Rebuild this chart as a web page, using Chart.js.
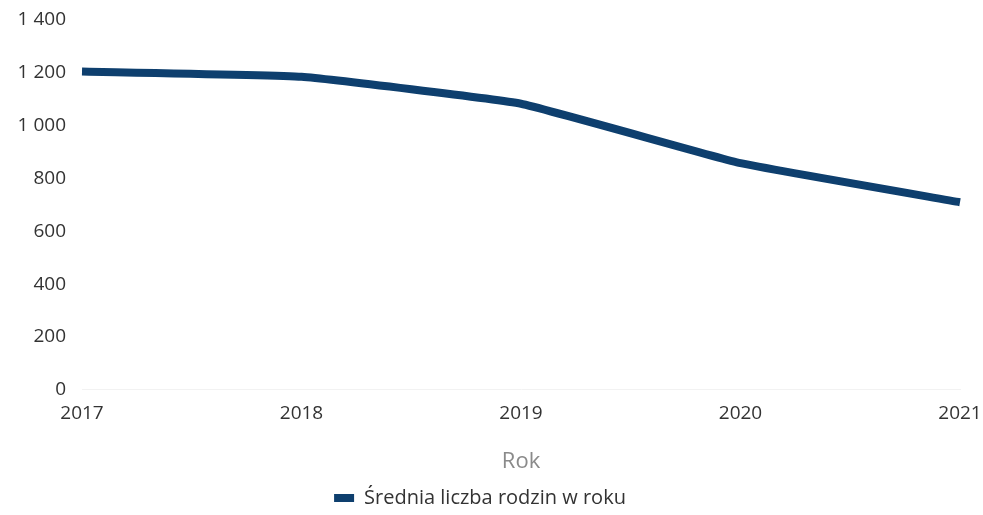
<!DOCTYPE html>
<html>
<head>
<meta charset="utf-8">
<script src="https://cdn.jsdelivr.net/npm/chart.js@4.4.0/dist/chart.umd.min.js"></script>
<style>
    html, body { margin: 0; padding: 0; background: #fff; }
    #wrap { width: 983px; height: 515px; position: relative; }
</style>
</head>
<body>
<div id="wrap"><canvas id="chart"></canvas></div>
<script>
// Dane wykresu
const lata = ['2017', '2018', '2019', '2020', '2021'];
const sredniaRodzin = [1205, 1185, 1083, 858, 710];
const osY = { min: 0, max: 1400, krok: 200 };
const tytulX = 'Rok';
const etykietaSerii = 'Średnia liczba rodzin w roku';

const kolor = '#0e3f6e';

// Format liczby ze spacją jako separatorem tysięcy
function formatLiczby(v) {
    return String(v).replace(/\B(?=(\d{3})+(?!\d))/g, ' ');
}

Chart.defaults.font.family = "'Open Sans', sans-serif";
Chart.defaults.color = '#333';

const ctx = document.getElementById('chart').getContext('2d');
new Chart(ctx, {
    type: 'line',
    data: {
        labels: lata,
        datasets: [{
            label: etykietaSerii,
            data: sredniaRodzin,
            borderColor: kolor,
            backgroundColor: kolor,
            borderWidth: 8,
            pointRadius: 0,
            tension: 0.1,
            borderCapStyle: 'butt',
            borderJoinStyle: 'round'
        }]
    },
    options: {
        responsive: true,
        maintainAspectRatio: false,
        animation: false,
        layout: { padding: { left: 0, right: 23, top: 20, bottom: -3 } },
        plugins: {
            legend: {
                position: 'bottom',
                labels: {
                    font: { size: 20 },
                    color: '#333',
                    boxWidth: 20,
                    boxHeight: 8,
                    padding: 3,
                    generateLabels: function(chart) {
                        const items = Chart.defaults.plugins.legend.labels.generateLabels(chart);
                        items.forEach(it => {
                            it.lineWidth = 0;
                            it.fillStyle = kolor;
                            it.strokeStyle = kolor;
                        });
                        return items;
                    }
                }
            },
            tooltip: { enabled: false }
        },
        scales: {
            x: {
                grid: { display: false, drawTicks: false },
                border: { display: true, color: '#f2f2f2' },
                ticks: { font: { size: 19 }, color: '#333', padding: 12, maxRotation: 0 },
                title: {
                    display: true,
                    text: tytulX,
                    font: { size: 22 },
                    color: '#8a8a8a',
                    padding: { top: 12, bottom: 10 }
                },
                afterFit: function(scale) {
                    scale.paddingRight = 0;
                    scale.paddingLeft = 0;
                }
            },
            y: {
                min: osY.min,
                max: osY.max,
                grid: { display: false, drawTicks: false },
                border: { display: false },
                ticks: {
                    stepSize: osY.krok,
                    font: { size: 19 },
                    color: '#333',
                    padding: 16,
                    callback: function(value) {
                        return formatLiczby(value);
                    }
                },
                afterFit: function(scale) {
                    scale.width = 82;
                    scale.paddingTop = 0;
                }
            }
        }
    }
});
</script>
</body>
</html>
